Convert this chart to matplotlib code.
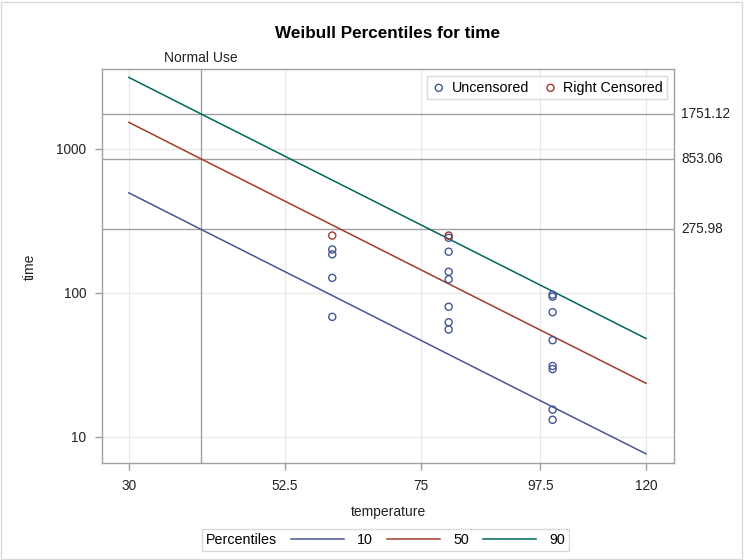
import numpy as np
import matplotlib
matplotlib.use('Agg')
import matplotlib.pyplot as plt
from matplotlib.lines import Line2D
from matplotlib.patches import Rectangle

plt.rcParams['font.family'] = ['Liberation Sans', 'DejaVu Sans']

# percentile lines
line_temps = [30, 40, 60, 80, 100, 120]
p10 = [495, 275.98, 95.7, 37.3, 16.1, 7.6]
p50 = [1530, 853.06, 295.7, 115.4, 49.9, 23.5]
p90 = [3140, 1751.12, 607, 237, 102.4, 48.1]

# observed data
unc_temp = [60, 60, 60, 60,
            80, 80, 80, 80, 80, 80, 80,
            100, 100, 100, 100, 100, 100, 100, 100]
unc_time = [200, 185, 127, 68,
            241, 193, 140, 124, 80, 62.4, 55.6,
            97, 94, 73.3, 46.8, 31, 29.5, 15.4, 13.1]
cens_temp = [60, 80]
cens_time = [250, 250]

normal_use = 40
ref_values = [1751.12, 853.06, 275.98]
ref_labels = ['1751.12', '853.06', '275.98']

xticks = [30, 52.5, 75, 97.5, 120]
xtick_labels = ['30', '52.5', '75', '97.5', '120']
yticks = [10, 100, 1000]
ytick_labels = ['10', '100', '1000']

c_blue = '#445694'
c_red = '#A23A2E'
c_green = '#01665E'
c_ref = '#a0a0a0'
c_grid = '#e8e8e8'

fig = plt.figure(figsize=(7.44, 5.6), dpi=100)
ax = fig.add_axes([0.1367, 0.1727, 0.7696, 0.7032])

# arrhenius axis
def fwd(t):
    return -1.0 / (np.asarray(t, dtype=float) + 273.15)

def inv(u):
    return -1.0 / np.asarray(u, dtype=float) - 273.15

ax.set_xscale('function', functions=(fwd, inv))
ax.set_yscale('log')
ax.set_xlim(26.4, 126.5)
ax.set_ylim(6.53, 3565)

for x in xticks:
    ax.axvline(x, color=c_grid, lw=0.9, zorder=0)
for y in yticks:
    ax.axhline(y, color=c_grid, lw=0.9, zorder=0)

for v, lab in zip(ref_values, ref_labels):
    ax.axhline(v, color=c_ref, lw=1.0, zorder=1)
    ax.text(1.012, v, lab, transform=ax.get_yaxis_transform(), ha='left', va='center',
            fontsize=9.8, color='#222222', clip_on=False)
ax.axvline(normal_use, color=c_ref, lw=1.0, zorder=1)
ax.text(normal_use, 1.012, 'Normal Use', transform=ax.get_xaxis_transform(), ha='center',
        va='bottom', fontsize=10, color='#222222')

l10, = ax.plot(line_temps, p10, color=c_blue, lw=1.1, zorder=2)
l50, = ax.plot(line_temps, p50, color=c_red, lw=1.1, zorder=2)
l90, = ax.plot(line_temps, p90, color=c_green, lw=1.1, zorder=2)

su = ax.scatter(unc_temp, unc_time, s=26, facecolors='none', edgecolors=c_blue, linewidths=1.0, zorder=3)
sc = ax.scatter(cens_temp, cens_time, s=26, facecolors='none', edgecolors=c_red, linewidths=1.0, zorder=3)

ax.set_xticks(xticks)
ax.set_xticklabels(xtick_labels)
ax.set_yticks(yticks)
ax.set_yticklabels(ytick_labels)
ax.yaxis.set_minor_locator(matplotlib.ticker.NullLocator())
ax.xaxis.set_minor_locator(matplotlib.ticker.NullLocator())
ax.tick_params(axis='both', labelsize=9.8, color=c_ref, length=5, width=1, labelcolor='#222222', pad=6)

for sp in ax.spines.values():
    sp.set_color(c_ref)
    sp.set_linewidth(1.0)

ax.set_xlabel('temperature', fontsize=10, labelpad=9, color='#222222')
ax.set_ylabel('time', fontsize=10, labelpad=14, color='#222222')

fig.text(0.5208, 0.94, 'Weibull Percentiles for time', ha='center', va='center',
         fontsize=12.3, fontweight='bold')

ax.legend([su, sc], ['Uncensored', 'Right Censored'], loc='upper right', ncol=2,
          bbox_to_anchor=(0.993, 0.99), fontsize=10.3, frameon=True, fancybox=False,
          edgecolor='#d0d0d0', handletextpad=0.4, columnspacing=1.0, borderpad=0.3,
          handlelength=1.0, borderaxespad=0.2)

blank = Line2D([], [], color='none')
leg = fig.legend([blank, l10, l50, l90], ['Percentiles', '10', '50', '90'], loc='center', ncol=4,
                 bbox_to_anchor=(0.518, 0.0357), fontsize=10.3, frameon=True, fancybox=False,
                 edgecolor='#d0d0d0', handlelength=3.7, handletextpad=0.9, columnspacing=1.0,
                 borderpad=0.3)
# drop the empty handle in front of "Percentiles"
first_col = leg._legend_handle_box.get_children()[0]
first_item = first_col.get_children()[0]
first_item.get_children().pop(0)

fig.patches.append(Rectangle((0.002, 0.002), 0.995, 0.995, transform=fig.transFigure,
                             fill=False, edgecolor='#d8d8d8', lw=1.0))

fig.savefig('out.png', dpi=100)
